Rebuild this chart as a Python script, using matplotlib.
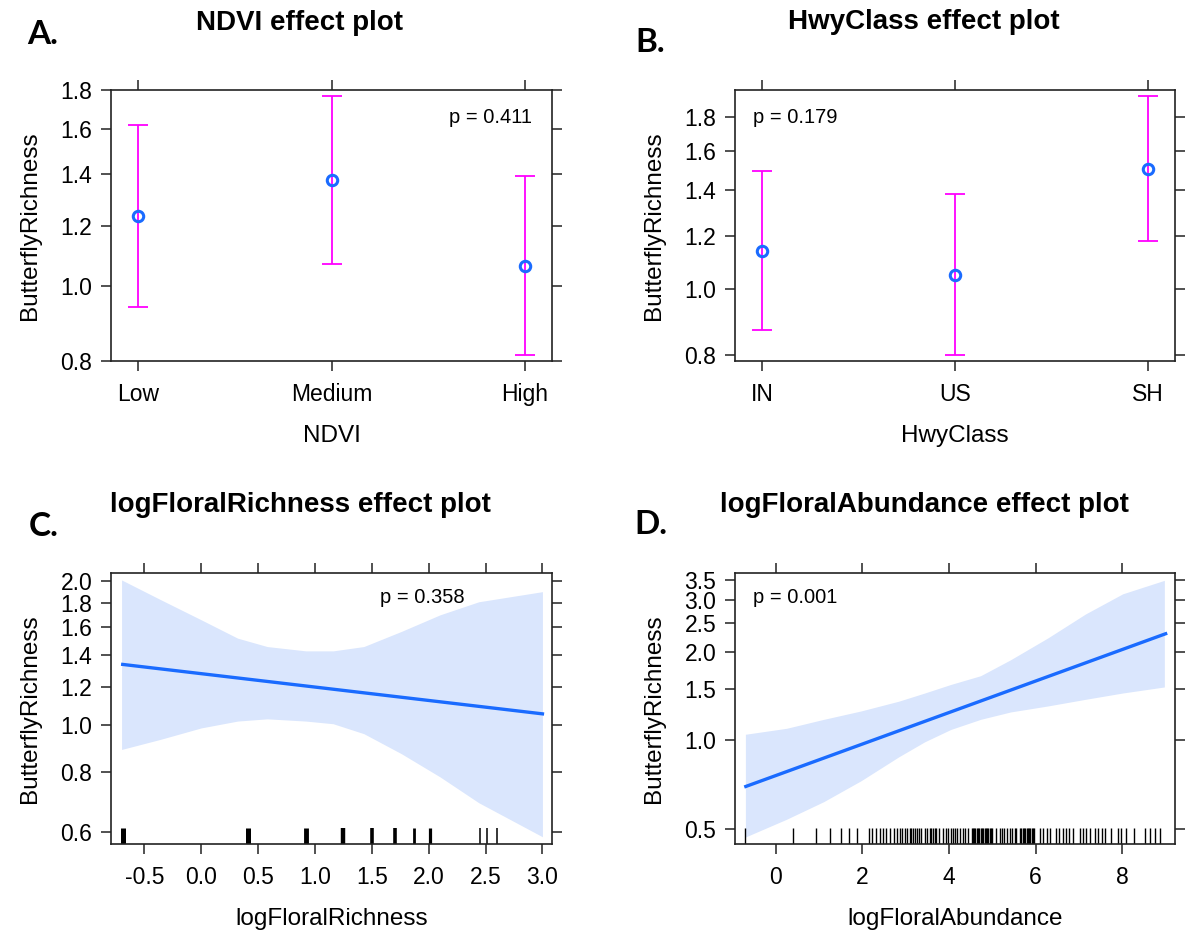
import matplotlib
matplotlib.use("Agg")
import matplotlib.pyplot as plt
import matplotlib.transforms as mtransforms

# ---- data ----
ndvi_levels = ["Low", "Medium", "High"]
ndvi_fit = [1.234, 1.375, 1.064]
ndvi_lower = [0.939, 1.070, 0.814]
ndvi_upper = [1.622, 1.768, 1.393]

hwy_levels = ["IN", "US", "SH"]
hwy_fit = [1.140, 1.052, 1.508]
hwy_lower = [0.872, 0.801, 1.179]
hwy_upper = [1.496, 1.383, 1.932]

# logFloralRichness effect
rich_line_x = [-0.69, 3.0]
rich_line_y = [1.340, 1.057]
rich_band_x = [-0.70, -0.36, 0.0, 0.32, 0.58, 0.92, 1.16, 1.43, 1.76, 2.10, 2.44, 3.0]
rich_upper = [2.01, 1.83, 1.66, 1.52, 1.46, 1.43, 1.43, 1.46, 1.57, 1.70, 1.81, 1.90]
rich_lower = [0.891, 0.935, 0.988, 1.021, 1.032, 1.021, 1.008, 0.961, 0.873, 0.781, 0.690, 0.586]
rich_rug = [-0.69, 0.41, 0.92, 1.25, 1.50, 1.70, 1.87, 2.01, 2.45, 2.51, 2.60]
rich_rug_n = [12, 10, 9, 8, 6, 6, 4, 5, 1, 1, 1]

# logFloralAbundance effect
abund_line_x = [-0.69, 9.0]
abund_line_y = [0.698, 2.305]
abund_band_x = [-0.70, 0.25, 1.11, 1.97, 2.84, 3.44, 4.04, 4.73, 5.42, 6.28, 7.15, 8.01, 8.97]
abund_upper = [1.05, 1.10, 1.18, 1.26, 1.36, 1.45, 1.55, 1.66, 1.88, 2.23, 2.69, 3.15, 3.50]
abund_lower = [0.47, 0.54, 0.62, 0.73, 0.88, 0.99, 1.09, 1.18, 1.25, 1.31, 1.38, 1.45, 1.52]
abund_rug = [-0.70, 0.41, 0.92, 1.25, 1.51, 1.69, 1.88, 2.15, 2.23, 2.32, 2.40, 2.48,
             2.55, 2.63, 2.72, 2.80, 2.86, 2.92, 2.98, 3.04, 3.09, 3.13, 3.17, 3.21,
             3.25, 3.31, 3.36, 3.44, 3.50, 3.55, 3.59, 3.63, 3.67, 3.71, 3.78, 3.86,
             3.94, 3.98, 4.05, 4.09, 4.13, 4.18, 4.25, 4.32, 4.36, 4.44, 4.52, 4.55,
             4.58, 4.61, 4.64, 4.67, 4.70, 4.73, 4.76, 4.79, 4.82, 4.85, 4.88, 4.91,
             4.94, 4.97, 5.00, 5.09, 5.17, 5.23, 5.28, 5.34, 5.40, 5.46, 5.52, 5.55,
             5.63, 5.67, 5.70, 5.73, 5.76, 5.79, 5.82, 5.85, 5.88, 5.91, 5.94, 5.97,
             6.09, 6.17, 6.25, 6.32, 6.48, 6.55, 6.63, 6.71, 6.78, 6.86, 7.02, 7.09,
             7.17, 7.25, 7.36, 7.44, 7.52, 7.59, 7.75, 7.90, 7.98, 8.09, 8.28, 8.52,
             8.63, 8.75, 8.86]

ndvi_yticks = [0.8, 1.0, 1.2, 1.4, 1.6, 1.8]
hwy_yticks = [0.8, 1.0, 1.2, 1.4, 1.6, 1.8]
rich_yticks = [0.6, 0.8, 1.0, 1.2, 1.4, 1.6, 1.8, 2.0]
abund_yticks = [0.5, 1.0, 1.5, 2.0, 2.5, 3.0, 3.5]
rich_xticks = [-0.5, 0.0, 0.5, 1.0, 1.5, 2.0, 2.5, 3.0]
abund_xticks = [0, 2, 4, 6, 8]

plt.rcParams['font.family'] = ['Liberation Sans', 'DejaVu Sans']

MAGENTA = "#FF00FF"
BLUE = "#1A6BFF"
BAND = "#DAE6FD"
AXC = "#222222"

fig = plt.figure(figsize=(11.86, 9.32), dpi=100)
W, H = 1186, 932


def make_ax(l, r, t, b):
    return fig.add_axes([l / W, 1 - b / H, (r - l) / W, (b - t) / H])


def style(ax, yticks, ylim):
    ax.set_yscale('log')
    ax.set_ylim(*ylim)
    ax.set_yticks(yticks, [f"{v:.1f}" for v in yticks])
    ax.minorticks_off()
    ax.tick_params(direction='out', length=7.5, width=1.1, color=AXC,
                   top=True, right=True, labelsize=16.5, pad=6)
    ax.tick_params(axis='x', pad=8)
    for s in ax.spines.values():
        s.set_color(AXC)
        s.set_linewidth(1.2)
    ax.set_ylabel("ButterflyRichness", fontsize=17.5, labelpad=14)


def rug(ax, xs, widths=None):
    trans = mtransforms.blended_transform_factory(ax.transData, ax.transAxes)
    if widths is None:
        widths = [0.8] * len(xs)
    ax.vlines(xs, 0, 0.06, transform=trans, color="black", linewidths=widths)


# ---- A: NDVI ----
axA = make_ax(111, 552, 90, 361)
style(axA, ndvi_yticks, (0.8, 1.8))
xa = list(range(1, len(ndvi_levels) + 1))
axA.errorbar(xa, ndvi_fit,
             yerr=[[f - lo for f, lo in zip(ndvi_fit, ndvi_lower)],
                   [u - f for f, u in zip(ndvi_fit, ndvi_upper)]],
             fmt='none', ecolor=MAGENTA, elinewidth=1.3, capsize=7.5, capthick=1.3)
axA.plot(xa, ndvi_fit, 'o', mfc='none', mec=BLUE, ms=7.5, mew=2.2)
axA.set_xlim(0.86, 3.14)
axA.set_xticks(xa, ndvi_levels)
axA.set_xlabel("NDVI", fontsize=17.5, labelpad=14)
axA.text(0.955, 0.90, "p = 0.411", transform=axA.transAxes, ha='right', va='center', fontsize=14.5)

# ---- B: HwyClass ----
axB = make_ax(735, 1175, 90, 361)
style(axB, hwy_yticks, (0.784, 1.97))
xb = list(range(1, len(hwy_levels) + 1))
axB.errorbar(xb, hwy_fit,
             yerr=[[f - lo for f, lo in zip(hwy_fit, hwy_lower)],
                   [u - f for f, u in zip(hwy_fit, hwy_upper)]],
             fmt='none', ecolor=MAGENTA, elinewidth=1.3, capsize=7.5, capthick=1.3)
axB.plot(xb, hwy_fit, 'o', mfc='none', mec=BLUE, ms=7.5, mew=2.2)
axB.set_xlim(0.86, 3.14)
axB.set_xticks(xb, hwy_levels)
axB.set_xlabel("HwyClass", fontsize=17.5, labelpad=14)
axB.text(0.04, 0.90, "p = 0.179", transform=axB.transAxes, ha='left', va='center', fontsize=14.5)

# ---- C: logFloralRichness ----
axC = make_ax(111, 552, 573, 844)
style(axC, rich_yticks, (0.566, 2.078))
axC.fill_between(rich_band_x, rich_lower, rich_upper, color=BAND, lw=0)
axC.plot(rich_line_x, rich_line_y, color=BLUE, lw=2.4)
rug(axC, rich_rug, [min(0.8 + 0.3 * n, 3.6) for n in rich_rug_n])
axC.set_xlim(-0.793, 3.084)
axC.set_xticks(rich_xticks, [f"{v:.1f}" for v in rich_xticks])
axC.set_xlabel("logFloralRichness", fontsize=17.5, labelpad=14)
axC.text(0.61, 0.91, "p = 0.358", transform=axC.transAxes, ha='left', va='center', fontsize=14.5)

# ---- D: logFloralAbundance ----
axD = make_ax(735, 1175, 573, 844)
style(axD, abund_yticks, (0.445, 3.707))
axD.fill_between(abund_band_x, abund_lower, abund_upper, color=BAND, lw=0)
axD.plot(abund_line_x, abund_line_y, color=BLUE, lw=2.4)
rug(axD, abund_rug, [1.0] * len(abund_rug))
axD.set_xlim(-0.94, 9.216)
axD.set_xticks(abund_xticks, [str(v) for v in abund_xticks])
axD.set_xlabel("logFloralAbundance", fontsize=17.5, labelpad=14)
axD.text(0.04, 0.91, "p = 0.001", transform=axD.transAxes, ha='left', va='center', fontsize=14.5)

# ---- titles and panel letters ----
titles = ["NDVI effect plot", "HwyClass effect plot",
          "logFloralRichness effect plot", "logFloralAbundance effect plot"]
title_pos = [(300, 23), (924, 22), (300, 505), (924, 505)]
for t, (x, y) in zip(titles, title_pos):
    fig.text(x / W, 1 - y / H, t, ha='center', va='center', fontsize=20, fontweight='bold')

letters = ["A.", "B.", "C.", "D."]
letter_pos = [(27, 35), (635, 43), (29, 526), (634, 525)]
for t, (x, y) in zip(letters, letter_pos):
    fig.text(x / W, 1 - y / H, t, ha='left', va='center', fontsize=24,
             fontweight='bold', family=['Lato', 'DejaVu Sans'])

fig.savefig("out.png", dpi=100)
